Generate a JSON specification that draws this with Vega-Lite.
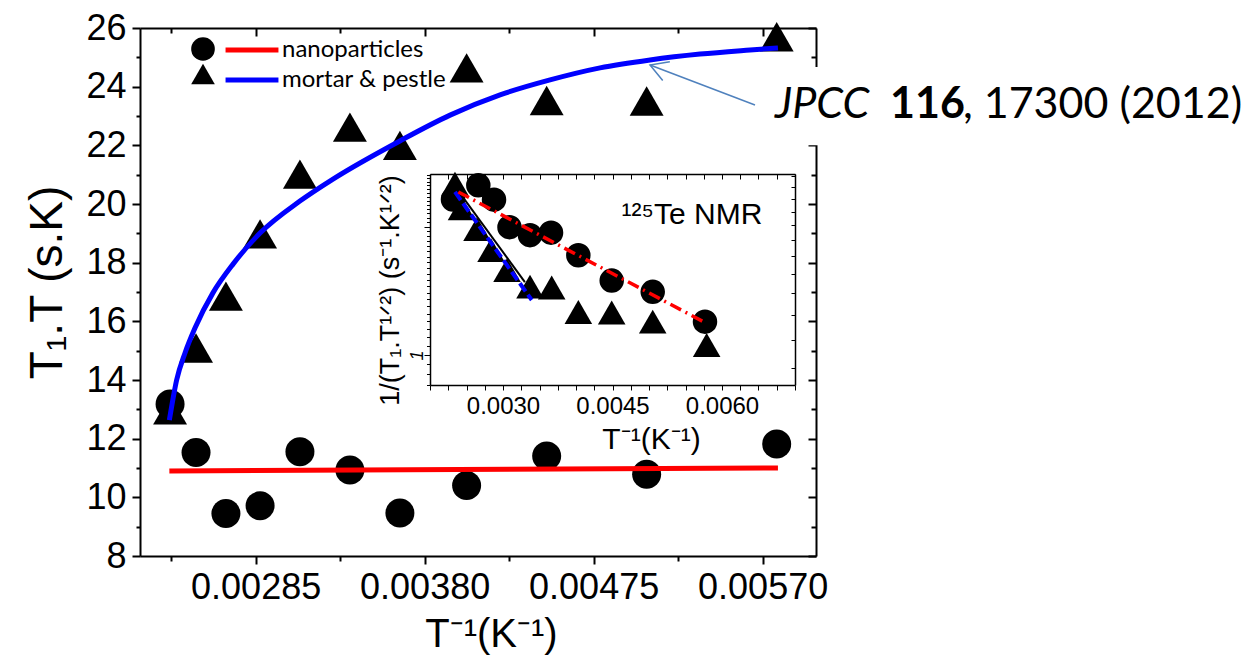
{
  "$schema": "https://vega.github.io/schema/vega-lite/v6.json",
  "width": 676,
  "height": 528,
  "autosize": {"type": "none"},
  "padding": {"left": 140, "top": 28, "right": 430, "bottom": 104},
  "background": "white",
  "config": {
    "view": {"stroke": null},
    "axis": {
      "grid": false, "domainColor": "black", "tickColor": "black", "labelColor": "black", "titleColor": "black",
      "labelFont": "Liberation Sans", "titleFont": "Liberation Sans", "titleFontWeight": "normal",
      "labelOverlap": false, "labelFlush": false, "labelBound": false
    },
    "legend": {"padding": 0}
  },
  "datasets": {
    "mainNano": [
      {"x": 0.002369, "y": 13.18, "sample": "np"},
      {"x": 0.002515, "y": 11.53, "sample": "np"},
      {"x": 0.002683, "y": 9.45, "sample": "np"},
      {"x": 0.002875, "y": 9.71, "sample": "np"},
      {"x": 0.003099, "y": 11.55, "sample": "np"},
      {"x": 0.00338, "y": 10.93, "sample": "np"},
      {"x": 0.003661, "y": 9.47, "sample": "np"},
      {"x": 0.004036, "y": 10.4, "sample": "np"},
      {"x": 0.004486, "y": 11.41, "sample": "np"},
      {"x": 0.005048, "y": 10.79, "sample": "np"},
      {"x": 0.005779, "y": 11.82, "sample": "np"}
    ],
    "mainMortar": [
      {"x": 0.002369, "y": 12.98, "sample": "mp"},
      {"x": 0.002515, "y": 15.09, "sample": "mp"},
      {"x": 0.002683, "y": 16.86, "sample": "mp"},
      {"x": 0.002875, "y": 18.98, "sample": "mp"},
      {"x": 0.003099, "y": 21.02, "sample": "mp"},
      {"x": 0.00338, "y": 22.62, "sample": "mp"},
      {"x": 0.003661, "y": 22.0, "sample": "mp"},
      {"x": 0.004036, "y": 24.64, "sample": "mp"},
      {"x": 0.004486, "y": 23.53, "sample": "mp"},
      {"x": 0.005048, "y": 23.51, "sample": "mp"},
      {"x": 0.005779, "y": 25.7, "sample": "mp"}
    ],
    "mainFits": [
      {"x": 0.002365, "y": 10.9, "series": "nanoparticles"},
      {"x": 0.005786, "y": 11.0, "series": "nanoparticles"},
      {"x": 0.002365, "y": 12.63, "series": "mortar & pestle"},
      {"x": 0.002406, "y": 14.0, "series": "mortar & pestle"},
      {"x": 0.002453, "y": 14.92, "series": "mortar & pestle"},
      {"x": 0.002509, "y": 15.77, "series": "mortar & pestle"},
      {"x": 0.00261, "y": 16.97, "series": "mortar & pestle"},
      {"x": 0.002723, "y": 17.95, "series": "mortar & pestle"},
      {"x": 0.002875, "y": 19.01, "series": "mortar & pestle"},
      {"x": 0.003099, "y": 20.1, "series": "mortar & pestle"},
      {"x": 0.003285, "y": 20.85, "series": "mortar & pestle"},
      {"x": 0.003661, "y": 22.15, "series": "mortar & pestle"},
      {"x": 0.003943, "y": 23.03, "series": "mortar & pestle"},
      {"x": 0.004224, "y": 23.72, "series": "mortar & pestle"},
      {"x": 0.004505, "y": 24.23, "series": "mortar & pestle"},
      {"x": 0.004786, "y": 24.64, "series": "mortar & pestle"},
      {"x": 0.005067, "y": 24.91, "series": "mortar & pestle"},
      {"x": 0.005348, "y": 25.11, "series": "mortar & pestle"},
      {"x": 0.005629, "y": 25.25, "series": "mortar & pestle"},
      {"x": 0.005786, "y": 25.32, "series": "mortar & pestle"}
    ],
    "notes": [
      {"x": 0.005769, "y": 23.375, "t": "JPCC", "part": "i"},
      {"x": 0.006416, "y": 23.375, "t": "116", "part": "b"},
      {"x": 0.006826, "y": 23.375, "t": ", 17300 (2012)", "part": "r"}
    ],
    "box": [{"x": 0.00571, "x2": 0.0085, "y": 24.67, "y2": 22.0}],
    "arrow": [{"x": 0.005067, "y": 24.74, "x2": 0.005657, "y2": 23.375}],
    "inNano": [
      {"x": 0.002315, "y": 2.317},
      {"x": 0.002662, "y": 2.503},
      {"x": 0.002877, "y": 2.315},
      {"x": 0.003089, "y": 1.995},
      {"x": 0.00337, "y": 1.911},
      {"x": 0.003658, "y": 1.937},
      {"x": 0.004032, "y": 1.714},
      {"x": 0.004489, "y": 1.495},
      {"x": 0.005051, "y": 1.407},
      {"x": 0.005767, "y": 1.197}
    ],
    "inMortar": [
      {"x": 0.002342, "y": 2.523},
      {"x": 0.002432, "y": 2.211},
      {"x": 0.002644, "y": 1.974},
      {"x": 0.002836, "y": 1.762},
      {"x": 0.003055, "y": 1.582},
      {"x": 0.00337, "y": 1.447},
      {"x": 0.003667, "y": 1.44},
      {"x": 0.004032, "y": 1.261},
      {"x": 0.004489, "y": 1.258},
      {"x": 0.005051, "y": 1.197},
      {"x": 0.00579, "y": 1.055}
    ],
    "inFits": [
      {"x": 0.002397, "y": 2.414, "fit": "black"},
      {"x": 0.0033, "y": 1.483, "fit": "black"},
      {"x": 0.002342, "y": 2.414, "fit": "blue"},
      {"x": 0.003393, "y": 1.346, "fit": "blue"},
      {"x": 0.002388, "y": 2.414, "fit": "red"},
      {"x": 0.005744, "y": 1.197, "fit": "red"}
    ],
    "inLabel": [{"x": 0.005589, "y": 2.129, "t": "¹²⁵Te NMR"}]
  },
  "resolve": {"scale": {"x": "independent", "y": "independent"}, "axis": {"x": "independent", "y": "independent"}},
  "layer": [
    {
      "resolve": {"axis": {"x": "independent", "y": "independent"}},
      "layer": [
        {
          "data": {"name": "mainNano"},
          "mark": {"type": "point", "filled": true, "color": "black", "opacity": 1, "size": 841},
          "encoding": {
            "x": {"field": "x", "type": "quantitative", "scale": {"domain": [0.0022, 0.006], "nice": false, "zero": false},
              "axis": {"orient": "bottom", "offset": -528, "values": [0.002375, 0.00285, 0.003325, 0.0038, 0.004275, 0.00475, 0.005225, 0.0057], "labels": false, "title": null,
                "tickSize": {"condition": {"test": "round(datum.value*1e6) % 950 == 0", "value": 8}, "value": 5}, "tickWidth": 2, "domainWidth": 2}},
            "y": {"field": "y", "type": "quantitative", "scale": {"domain": [8, 26], "nice": false, "zero": false},
              "axis": {"orient": "left", "offset": -676, "values": [8,9,10,11,12,13,14,15,16,17,18,19,20,21,22,23,24,25,26], "labels": false, "title": null,
                "tickSize": {"condition": {"test": "datum.value % 2 == 0", "value": 8}, "value": 5}, "tickWidth": 2, "domainWidth": 2}},
            "shape": {"field": "sample", "type": "nominal", "scale": {"domain": ["np", "mp"], "range": ["circle", "triangle-up"]},
              "legend": {"orient": "none", "legendX": 51, "legendY": 9, "title": null, "symbolSize": 560, "labelExpr": "''", "labelFontSize": 8, "rowPadding": 1, "padding": 0, "symbolFillColor": "black", "symbolStrokeWidth": 0}}
          }
        },
        {
          "data": {"name": "mainMortar"},
          "mark": {"type": "point", "filled": true, "color": "black", "opacity": 1, "size": 1150},
          "encoding": {
            "x": {"field": "x", "type": "quantitative", "scale": {"domain": [0.0022, 0.006], "nice": false, "zero": false}, "axis": null},
            "y": {"field": "y", "type": "quantitative", "scale": {"domain": [8, 26], "nice": false, "zero": false}, "axis": null},
            "shape": {"field": "sample", "type": "nominal", "scale": {"domain": ["np", "mp"], "range": ["circle", "triangle-up"]},
              "legend": {"orient": "none", "legendX": 51, "legendY": 9, "title": null, "symbolSize": 560, "labelExpr": "''", "labelFontSize": 8, "rowPadding": 1, "padding": 0, "symbolFillColor": "black", "symbolStrokeWidth": 0}}
          }
        },
        {
          "data": {"name": "mainFits"},
          "mark": {"type": "line", "strokeWidth": 5, "interpolate": "monotone"},
          "encoding": {
            "x": {"field": "x", "type": "quantitative", "scale": {"domain": [0.0022, 0.006], "nice": false, "zero": false},
              "axis": {"orient": "bottom", "values": [0.002375, 0.00285, 0.003325, 0.0038, 0.004275, 0.00475, 0.005225, 0.0057],
                "labelExpr": "round(datum.value*1e6) % 950 == 0 ? format(datum.value, '.5f') : ''", "labelFontSize": 36, "labelPadding": 6,
                "tickSize": {"condition": {"test": "round(datum.value*1e6) % 950 == 0", "value": 8}, "value": 5}, "tickWidth": 2, "domainWidth": 2,
                "title": "T⁻¹(K⁻¹)", "titleFontSize": 40, "titlePadding": 9, "titleX": 351}},
            "y": {"field": "y", "type": "quantitative", "scale": {"domain": [8, 26], "nice": false, "zero": false},
              "axis": {"orient": "left", "values": [8,9,10,11,12,13,14,15,16,17,18,19,20,21,22,23,24,25,26],
                "labelExpr": "datum.value % 2 == 0 ? datum.label : ''", "labelFontSize": 36, "labelPadding": 6,
                "tickSize": {"condition": {"test": "datum.value % 2 == 0", "value": 8}, "value": 4}, "tickWidth": 2, "domainWidth": 2,
                "title": "T₁.T (s.K)", "titleFontSize": 46, "titlePadding": 14, "titleY": 254}},
            "stroke": {"field": "series", "type": "nominal", "scale": {"domain": ["nanoparticles", "mortar & pestle"], "range": ["#ff0000", "#0000ff"]},
              "legend": {"orient": "none", "legendX": 98, "legendY": 8, "title": null, "symbolType": "M-2.3,0L2.3,0", "symbolSize": 529, "symbolStrokeWidth": 5,
                "labelFont": "Lato", "labelFontSize": 24, "labelColor": "black", "labelOffset": 16, "rowPadding": 4, "padding": 0, "labelLimit": 0}}
          }
        },
        {
          "data": {"name": "box"},
          "mark": {"type": "rect", "color": "white"},
          "encoding": {
            "x": {"field": "x", "type": "quantitative", "scale": {"domain": [0.0022, 0.006], "nice": false, "zero": false}, "axis": null},
            "x2": {"field": "x2"},
            "y": {"field": "y", "type": "quantitative", "scale": {"domain": [8, 26], "nice": false, "zero": false}, "axis": null},
            "y2": {"field": "y2"}
          }
        },
        {
          "data": {"name": "notes"},
          "transform": [{"filter": "datum.part == 'i'"}],
          "mark": {"type": "text", "font": "Lato", "fontSize": 43, "fontStyle": "italic", "align": "left", "baseline": "middle", "color": "black"},
          "encoding": {
            "x": {"field": "x", "type": "quantitative", "scale": {"domain": [0.0022, 0.006], "nice": false, "zero": false}, "axis": null},
            "y": {"field": "y", "type": "quantitative", "scale": {"domain": [8, 26], "nice": false, "zero": false}, "axis": null},
            "text": {"field": "t"}
          }
        },
        {
          "data": {"name": "notes"},
          "transform": [{"filter": "datum.part == 'b'"}],
          "mark": {"type": "text", "font": "Lato", "fontSize": 43, "fontWeight": "bold", "align": "left", "baseline": "middle", "color": "black"},
          "encoding": {
            "x": {"field": "x", "type": "quantitative", "scale": {"domain": [0.0022, 0.006], "nice": false, "zero": false}, "axis": null},
            "y": {"field": "y", "type": "quantitative", "scale": {"domain": [8, 26], "nice": false, "zero": false}, "axis": null},
            "text": {"field": "t"}
          }
        },
        {
          "data": {"name": "notes"},
          "transform": [{"filter": "datum.part == 'r'"}],
          "mark": {"type": "text", "font": "Lato", "fontSize": 43, "align": "left", "baseline": "middle", "color": "black"},
          "encoding": {
            "x": {"field": "x", "type": "quantitative", "scale": {"domain": [0.0022, 0.006], "nice": false, "zero": false}, "axis": null},
            "y": {"field": "y", "type": "quantitative", "scale": {"domain": [8, 26], "nice": false, "zero": false}, "axis": null},
            "text": {"field": "t"}
          }
        },
        {
          "data": {"name": "arrow"},
          "mark": {"type": "rule", "color": "#4f81bd", "strokeWidth": 1.5},
          "encoding": {
            "x": {"field": "x", "type": "quantitative", "scale": {"domain": [0.0022, 0.006], "nice": false, "zero": false}, "axis": null},
            "x2": {"field": "x2"},
            "y": {"field": "y", "type": "quantitative", "scale": {"domain": [8, 26], "nice": false, "zero": false}, "axis": null},
            "y2": {"field": "y2"}
          }
        },
        {
          "data": {"name": "arrow"},
          "mark": {"type": "point", "shape": "M-0.87,-0.5L0,0L-0.87,0.5", "size": 1600, "filled": false, "stroke": "#4f81bd", "strokeWidth": 1.5, "angle": 200.9, "opacity": 1},
          "encoding": {
            "x": {"field": "x", "type": "quantitative", "scale": {"domain": [0.0022, 0.006], "nice": false, "zero": false}, "axis": null},
            "y": {"field": "y", "type": "quantitative", "scale": {"domain": [8, 26], "nice": false, "zero": false}, "axis": null}
          }
        }
      ]
    },
    {
      "resolve": {"axis": {"x": "independent", "y": "independent"}},
      "layer": [
        {
          "data": {"name": "inNano"},
          "mark": {"type": "point", "filled": true, "color": "black", "opacity": 1, "size": 600, "shape": "circle"},
          "encoding": {
            "x": {"field": "x", "type": "quantitative", "scale": {"domain": [0.002, 0.007], "range": [290, 655], "nice": false, "zero": false},
              "axis": {"orient": "bottom", "offset": -171,
                "values": [0.002, 0.00225, 0.0025, 0.00275, 0.003, 0.00325, 0.0035, 0.00375, 0.004, 0.00425, 0.0045, 0.00475, 0.005, 0.00525, 0.0055, 0.00575, 0.006, 0.00625, 0.0065, 0.00675, 0.007],
                "labelExpr": "round(datum.value*100000) % 150 == 0 ? format(datum.value, '.4f') : ''", "labelFontSize": 24, "labelPadding": 4,
                "tickSize": 5, "tickWidth": 1, "domainWidth": 1.5,
                "title": "T⁻¹(K⁻¹)", "titleFontSize": 30, "titlePadding": 6, "titleX": 511}},
            "y": {"field": "y", "type": "quantitative", "scale": {"type": "log", "domain": [0.85, 2.66], "range": [357, 146], "nice": false},
              "axis": {"orient": "left", "offset": -290,
                "values": [0.85, 0.9, 0.95, 1, 1.05, 1.1, 1.15, 1.2, 1.25, 1.3, 1.35, 1.4, 1.45, 1.5, 1.55, 1.6, 1.65, 1.7, 1.75, 1.8, 1.85, 1.9, 1.95, 2, 2.05, 2.1, 2.15, 2.2, 2.25, 2.3, 2.35, 2.4, 2.45, 2.5, 2.55, 2.6, 2.65],
                "labelExpr": "datum.value == 1 ? '1' : ''", "labelFontSize": 18, "labelFontStyle": "italic", "labelAngle": 270, "labelBaseline": "middle", "labelAlign": "center", "labelPadding": 7,
                "tickSize": {"condition": {"test": "datum.value == 1 || datum.value == 2", "value": 6}, "value": 3.5}, "tickWidth": 1, "domainWidth": 1.5,
                "title": "1/(T₁.T¹ᐟ²) (s⁻¹.K¹ᐟ²)", "titleFontSize": 27, "titlePadding": 4, "titleY": 262}}
          }
        },
        {
          "data": {"name": "inMortar"},
          "mark": {"type": "point", "filled": true, "color": "black", "opacity": 1, "size": 760, "shape": "triangle-up"},
          "encoding": {
            "x": {"field": "x", "type": "quantitative", "scale": {"domain": [0.002, 0.007], "range": [290, 655], "nice": false, "zero": false},
              "axis": {"orient": "bottom", "offset": -382,
                "values": [0.002, 0.00225, 0.0025, 0.00275, 0.003, 0.00325, 0.0035, 0.00375, 0.004, 0.00425, 0.0045, 0.00475, 0.005, 0.00525, 0.0055, 0.00575, 0.006, 0.00625, 0.0065, 0.00675, 0.007],
                "labels": false, "title": null, "tickSize": 5, "tickWidth": 1, "domainWidth": 1.5}},
            "y": {"field": "y", "type": "quantitative", "scale": {"type": "log", "domain": [0.85, 2.66], "range": [357, 146], "nice": false},
              "axis": {"orient": "left", "offset": -655,
                "values": [0.93, 1.085, 1.24, 1.395, 1.55, 1.705, 1.86, 2.015, 2.17, 2.325, 2.48, 2.635],
                "labels": false, "title": null, "tickSize": 4, "tickWidth": 1, "domainWidth": 1.5}}
          }
        },
        {
          "data": {"name": "inFits"},
          "transform": [{"filter": "datum.fit == 'black'"}],
          "mark": {"type": "line", "color": "black", "strokeWidth": 2},
          "encoding": {
            "x": {"field": "x", "type": "quantitative", "scale": {"domain": [0.002, 0.007], "range": [290, 655], "nice": false, "zero": false}, "axis": null},
            "y": {"field": "y", "type": "quantitative", "scale": {"type": "log", "domain": [0.85, 2.66], "range": [357, 146], "nice": false}, "axis": null}
          }
        },
        {
          "data": {"name": "inFits"},
          "transform": [{"filter": "datum.fit == 'blue'"}],
          "mark": {"type": "line", "color": "#0000ff", "strokeWidth": 4, "strokeDash": [10, 4]},
          "encoding": {
            "x": {"field": "x", "type": "quantitative", "scale": {"domain": [0.002, 0.007], "range": [290, 655], "nice": false, "zero": false}, "axis": null},
            "y": {"field": "y", "type": "quantitative", "scale": {"type": "log", "domain": [0.85, 2.66], "range": [357, 146], "nice": false}, "axis": null}
          }
        },
        {
          "data": {"name": "inFits"},
          "transform": [{"filter": "datum.fit == 'red'"}],
          "mark": {"type": "line", "color": "#ff0000", "strokeWidth": 3.5, "strokeDash": [12, 5, 2, 5]},
          "encoding": {
            "x": {"field": "x", "type": "quantitative", "scale": {"domain": [0.002, 0.007], "range": [290, 655], "nice": false, "zero": false}, "axis": null},
            "y": {"field": "y", "type": "quantitative", "scale": {"type": "log", "domain": [0.85, 2.66], "range": [357, 146], "nice": false}, "axis": null}
          }
        },
        {
          "data": {"name": "inLabel"},
          "mark": {"type": "text", "font": "Liberation Sans", "fontSize": 30, "align": "center", "baseline": "middle", "color": "black"},
          "encoding": {
            "x": {"field": "x", "type": "quantitative", "scale": {"domain": [0.002, 0.007], "range": [290, 655], "nice": false, "zero": false}, "axis": null},
            "y": {"field": "y", "type": "quantitative", "scale": {"type": "log", "domain": [0.85, 2.66], "range": [357, 146], "nice": false}, "axis": null},
            "text": {"field": "t"}
          }
        }
      ]
    }
  ]
}
